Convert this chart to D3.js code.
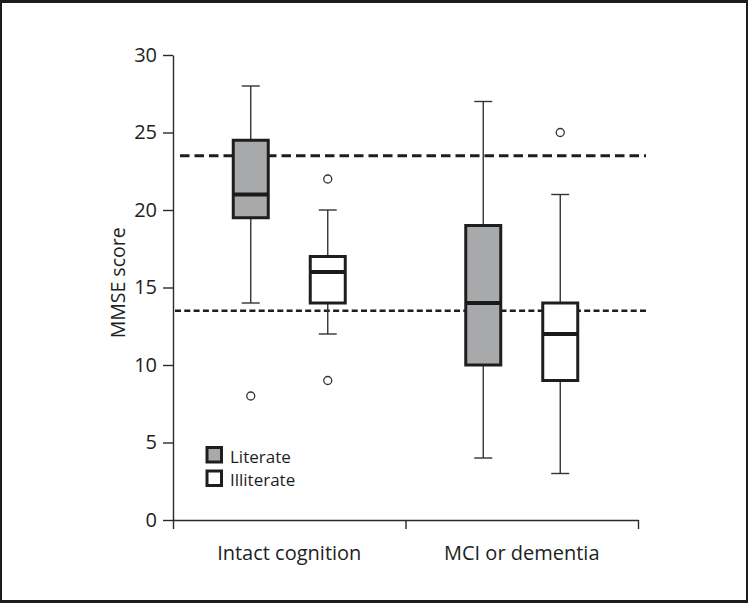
<!DOCTYPE html>
<html>
<head>
<meta charset="utf-8">
<script src="https://cdn.jsdelivr.net/npm/d3@7"></script>
<style>
  html, body { margin: 0; padding: 0; background: #fff; }
  svg { display: block; }
  text { font-family: "Open Sans", "Noto Sans", sans-serif; fill: #1e1e1e; }
</style>
</head>
<body>
<script>
// ---- data ----
const categories = ["Intact cognition", "MCI or dementia"];
const groups = ["Literate", "Illiterate"];
const groupFill = ["#a8a9ab", "#ffffff"];
// [whiskerLow, Q1, median, Q3, whiskerHigh] per category per group
const literateStats = [[14, 19.5, 21, 24.5, 28], [4, 10, 14, 19, 27]];
const illiterateStats = [[12, 14, 16, 17, 20], [3, 9, 12, 14, 21]];
const literateOutliers = [[8], []];
const illiterateOutliers = [[22, 9], [25]];
const cutoffs = [23.5, 13.5];
const yTicks = [0, 5, 10, 15, 20, 25, 30];

const W = 748, H = 603;
const svg = d3.select("body").append("svg").attr("width", W).attr("height", H);

// frame
svg.append("rect").attr("x", 0).attr("y", 0).attr("width", W).attr("height", H).attr("fill", "#1c1c1c");
svg.append("rect").attr("x", 2).attr("y", 3).attr("width", 744).attr("height", 597).attr("fill", "#fff");

const x = d3.scaleBand().domain(categories).range([173, 638]).padding(0);
const y = d3.scaleLinear().domain([0, 30]).range([520, 55]);
const xEdge = d3.scaleLinear().domain([0, categories.length]).range(x.range());
const sub = d3.scalePoint().domain(groups).range([-38.5, 38.5]);

const g = svg.append("g");

// y axis
const yAx = g.append("g").attr("transform", "translate(173,0)")
  .call(d3.axisLeft(y).tickValues(yTicks).tickSize(10).tickSizeOuter(0).tickPadding(6));
yAx.selectAll("path, line").attr("stroke", "#2a2a2a").attr("stroke-width", 1.4);
yAx.selectAll("text").style("font-size", "20px").attr("fill", "#1e1e1e");

// x axis (boundary ticks)
const xAx = g.append("g").attr("transform", "translate(0,520)")
  .call(d3.axisBottom(xEdge).tickValues(d3.range(categories.length + 1)).tickSize(9).tickSizeOuter(0).tickFormat(""));
xAx.selectAll("path, line").attr("stroke", "#2a2a2a").attr("stroke-width", 1.4);
// category labels
const xLab = g.append("g").attr("transform", "translate(0,520)")
  .call(d3.axisBottom(x).tickSize(0).tickPadding(26));
xLab.select(".domain").remove();
xLab.selectAll("text").style("font-size", "20px").attr("fill", "#1e1e1e");

// y label
svg.append("text")
  .attr("transform", "translate(125," + y(15.3) + ") rotate(-90)")
  .attr("text-anchor", "middle")
  .style("font-size", "19.5px")
  .text("MMSE score");

// cutoff dashed lines
svg.append("line")
  .attr("x1", 180).attr("x2", 646)
  .attr("y1", y(cutoffs[0])).attr("y2", y(cutoffs[0]))
  .attr("stroke", "#1e1e1e").attr("stroke-width", 3).attr("stroke-dasharray", "9.5,5");
svg.append("line")
  .attr("x1", 175).attr("x2", 646)
  .attr("y1", y(cutoffs[1])).attr("y2", y(cutoffs[1]))
  .attr("stroke", "#1e1e1e").attr("stroke-width", 2.4).attr("stroke-dasharray", "6,3.3");

// boxes
const statsByGroup = [literateStats, illiterateStats];
const outByGroup = [literateOutliers, illiterateOutliers];
const bw = 35, capW = 18;
groups.forEach((grp, gi) => {
  categories.forEach((cat, ci) => {
    const s = statsByGroup[gi][ci];
    const cx = x(cat) + x.bandwidth() / 2 + sub(grp);
    const bg = svg.append("g");
    // whiskers
    bg.append("line").attr("x1", cx).attr("x2", cx).attr("y1", y(s[4])).attr("y2", y(s[3]))
      .attr("stroke", "#333").attr("stroke-width", 1.4);
    bg.append("line").attr("x1", cx).attr("x2", cx).attr("y1", y(s[1])).attr("y2", y(s[0]))
      .attr("stroke", "#333").attr("stroke-width", 1.4);
    [s[0], s[4]].forEach(v => {
      bg.append("line").attr("x1", cx - capW / 2).attr("x2", cx + capW / 2).attr("y1", y(v)).attr("y2", y(v))
        .attr("stroke", "#333").attr("stroke-width", 1.4);
    });
    // box
    bg.append("rect").attr("x", cx - bw / 2).attr("y", y(s[3]))
      .attr("width", bw).attr("height", y(s[1]) - y(s[3]))
      .attr("fill", groupFill[gi]).attr("stroke", "#1e1e1e").attr("stroke-width", 3);
    // median
    bg.append("line").attr("x1", cx - bw / 2).attr("x2", cx + bw / 2).attr("y1", y(s[2])).attr("y2", y(s[2]))
      .attr("stroke", "#1a1a1a").attr("stroke-width", 4);
    // outliers
    outByGroup[gi][ci].forEach(v => {
      bg.append("circle").attr("cx", cx).attr("cy", y(v)).attr("r", 4)
        .attr("fill", "#fff").attr("stroke", "#333").attr("stroke-width", 1.3);
    });
  });
});

// legend
const leg = svg.append("g");
groups.forEach((grp, gi) => {
  const ly = 447.5 + gi * 23.5;
  leg.append("rect").attr("x", 207).attr("y", ly).attr("width", 14.5).attr("height", 14.5)
    .attr("fill", groupFill[gi]).attr("stroke", "#1e1e1e").attr("stroke-width", 3);
  leg.append("text").attr("x", 230).attr("y", ly + 15).style("font-size", "17px").text(grp);
});
</script>
</body>
</html>
